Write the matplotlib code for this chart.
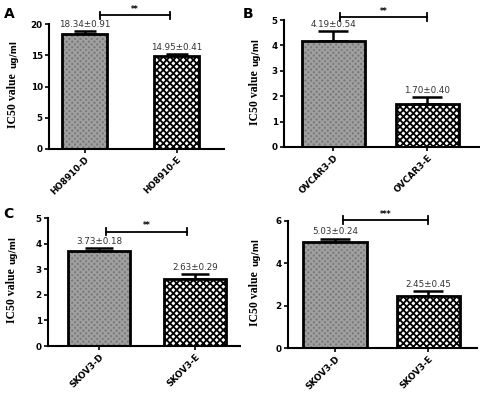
import matplotlib
matplotlib.use("Agg")
import matplotlib.pyplot as plt

plt.rcParams["hatch.linewidth"] = 1.3

W, H = 481, 396

# data
groups = [["HO8910-D", "HO8910-E"],
          ["OVCAR3-D", "OVCAR3-E"],
          ["SKOV3-D", "SKOV3-E"],
          ["SKOV3-D", "SKOV3-E"]]
means = [[18.34, 14.95], [4.19, 1.70], [3.73, 2.63], [5.03, 2.45]]
sds = [[0.91, 0.41], [0.54, 0.40], [0.18, 0.29], [0.24, 0.45]]
err_drawn = [[0.50, 0.25], [0.37, 0.28], [0.10, 0.17], [0.14, 0.26]]
stars = ["**", "**", "**", "***"]
ymax = [20, 5, 5, 6]
yticks = [[0, 5, 10, 15, 20], [0, 1, 2, 3, 4, 5], [0, 1, 2, 3, 4, 5], [0, 2, 4, 6]]
letters = ["A", "B", "C", ""]

# layout in pixels: left, right, bottom(y0), top(ymax), bar width, xlim,
# bracket start/end (data x) and bracket height (data y)
layout = [
    (49, 224, 149, 24, 0.49, (-0.386, 1.516), 0.17, 0.93, 21.4),
    (284, 480, 147, 20, 0.67, (-0.527, 1.56), 0.07, 1.0, 5.12),
    (48, 240, 346, 218, 0.65, (-0.53, 1.47), 0.07, 0.92, 4.47),
    (288, 477, 348, 221, 0.68, (-0.50, 1.52), 0.09, 1.0, 6.04),
]
label_x = [13, 255, 12, 255]
letter_pos = [(4, 14), (243, 14), (3, 214)]

fig = plt.figure(figsize=(W / 100, H / 100), dpi=100)

for i in range(4):
    l, r, b, t, bw, xl, bx0, bx1, by = layout[i]
    ax = fig.add_axes([l / W, 1 - b / H, (r - l) / W, (b - t) / H])
    xs = [0, 1]
    # textured fill
    ax.bar(0, means[i][0], width=bw, color="#7a7a7a", edgecolor="#a0a0a0",
           hatch="xxxxxx", linewidth=0, zorder=2)
    ax.bar(1, means[i][1], width=bw, color="white", edgecolor="black",
           hatch="xxxxx", linewidth=0, zorder=2)
    # outlines
    ax.bar(xs, means[i], width=bw, fill=False, edgecolor="black",
           linewidth=2, zorder=3)
    ax.errorbar(xs, means[i], yerr=[[0, 0], err_drawn[i]], fmt="none",
                ecolor="black", elinewidth=1.8, capsize=bw * 16, capthick=1.8,
                zorder=1)
    for j in range(2):
        ax.annotate("%.2f±%.2f" % (means[i][j], sds[i][j]),
                    (xs[j], means[i][j] + err_drawn[i][j]),
                    xytext=(0, 1.5), textcoords="offset points",
                    ha="center", va="bottom", fontsize=6.3, color="#333333",
                    zorder=4)
    # significance bracket
    ax.plot([bx0, bx1], [by, by], color="black", lw=1.3, clip_on=False)
    dy = ymax[i] * 0.03
    for bxx in (bx0, bx1):
        ax.plot([bxx, bxx], [by - dy, by + dy], color="black", lw=1.3,
                clip_on=False)
    ax.text((bx0 + bx1) / 2, by + dy * 0.3, stars[i], ha="center", va="bottom",
            fontsize=5.5, fontweight="bold")

    ax.set_xlim(*xl)
    ax.set_ylim(0, ymax[i])
    ax.set_yticks(yticks[i])
    ax.set_xticks(xs)
    ax.set_xticklabels(groups[i], rotation=45, ha="right",
                       rotation_mode="anchor", fontsize=6.3, fontweight="bold")
    for lab in ax.get_yticklabels():
        lab.set_fontsize(6.3)
        lab.set_fontweight("bold")
    ax.tick_params(width=1.2, length=3, pad=1.5)
    ax.spines["top"].set_visible(False)
    ax.spines["right"].set_visible(False)
    ax.spines["left"].set_linewidth(1.5)
    ax.spines["bottom"].set_linewidth(1.5)

    # y label: serif part and sans part
    mid = (b + t) / 2
    fig.text(label_x[i] / W, 1 - (mid + 14) / H, "IC50 value", rotation=90,
             ha="center", va="center", family="Liberation Serif",
             fontweight="bold", fontsize=8.5)
    fig.text((label_x[i] + 1) / W, 1 - (mid - 32) / H, "ug/ml", rotation=90,
             ha="center", va="center", fontweight="bold", fontsize=6.3)

for k, (px, py) in enumerate(letter_pos):
    fig.text(px / W, 1 - py / H, letters[k], fontsize=10, fontweight="bold",
             ha="left", va="center")

fig.savefig("out.png", dpi=100)
